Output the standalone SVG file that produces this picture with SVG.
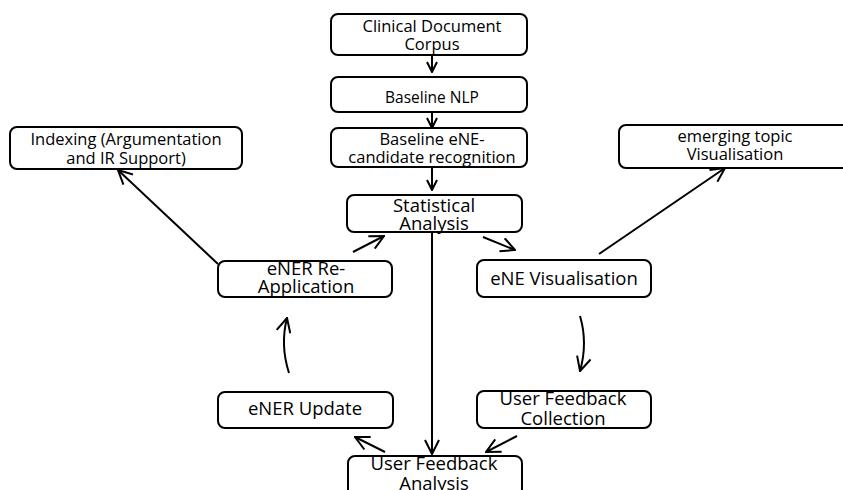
<svg xmlns="http://www.w3.org/2000/svg" width="843" height="490" viewBox="0 0 843 490">
<style>
.box{fill:#fff;stroke:#000;stroke-width:2}
.t{font-family:"Open Sans","Noto Sans",sans-serif;fill:#000;text-anchor:middle}
.s{font-size:16.5px}
.m{font-size:18.5px}
.c{fill:none;stroke:#000;stroke-width:2}
</style>
<defs>
<marker id="ah" viewBox="0 0 12 12" refX="11" refY="6" markerWidth="12" markerHeight="12" markerUnits="userSpaceOnUse" orient="auto">
<path d="M1,1 L11,6 L1,11" fill="none" stroke="#000" stroke-width="2"/>
</marker>
<marker id="ahl" viewBox="0 0 16 16" refX="15" refY="8" markerWidth="16" markerHeight="16" markerUnits="userSpaceOnUse" orient="auto">
<path d="M1,1 L15,8 L1,15" fill="none" stroke="#000" stroke-width="2"/>
</marker>
</defs>
<rect width="843" height="490" fill="#fff"/>
<g id="connectors">
<path class="c" d="M432,55 V72" marker-end="url(#ah)"/>
<path class="c" d="M432,112 V128" marker-end="url(#ah)"/>
<path class="c" d="M432,167 V190" marker-end="url(#ah)"/>
<path class="c" d="M218,264 L118,170" marker-end="url(#ahl)"/>
<path class="c" d="M353,252 L384,236" marker-end="url(#ahl)"/>
<path class="c" d="M483,237 L515,250" marker-end="url(#ahl)"/>
<path class="c" d="M599,254 L725,168" marker-end="url(#ahl)"/>
<path class="c" d="M432,232 V454" marker-end="url(#ahl)"/>
<path class="c" d="M289,373 Q280,345 287,318" marker-end="url(#ahl)"/>
<path class="c" d="M580,316 Q588,343 580,371" marker-end="url(#ahl)"/>
<path class="c" d="M385,452 L355,437" marker-end="url(#ahl)"/>
<path class="c" d="M517,436 L486,452" marker-end="url(#ahl)"/>
</g>
<g id="n1"><rect class="box" x="331" y="14" width="196" height="41" rx="7"/><text class="t s" x="432" y="32">Clinical Document</text><text class="t s" x="432" y="50">Corpus</text></g>
<g id="n2"><rect class="box" x="331" y="77" width="196" height="35" rx="7"/><text class="t" style="font-size:15.5px" x="432" y="103">Baseline NLP</text></g>
<g id="n3"><rect class="box" x="331" y="128" width="196" height="39" rx="7"/><text class="t s" x="432" y="145">Baseline eNE-</text><text class="t s" x="432" y="163">candidate recognition</text></g>
<g id="n4"><rect class="box" x="347" y="195" width="175" height="37" rx="7"/><text class="t m" x="434" y="212">Statistical</text><text class="t m" x="434" y="230">Analysis</text></g>
<g id="n5"><rect class="box" x="10" y="127" width="232" height="42" rx="7"/><text class="t s" x="126" y="145">Indexing (Argumentation</text><text class="t s" x="126" y="164">and IR Support)</text></g>
<g id="n6"><rect class="box" x="619" y="125" width="234" height="43" rx="7"/><text class="t s" x="735" y="142">emerging topic</text><text class="t s" x="735" y="160">Visualisation</text></g>
<g id="n7"><rect class="box" x="218" y="261" width="174" height="36" rx="7"/><text class="t m" x="306" y="275">eNER Re-</text><text class="t m" x="306" y="293">Application</text></g>
<g id="n8"><rect class="box" x="477" y="260" width="174" height="37" rx="7"/><text class="t m" x="564" y="285">eNE Visualisation</text></g>
<g id="n9"><rect class="box" x="218" y="392" width="175" height="36" rx="7"/><text class="t m" x="305" y="415">eNER Update</text></g>
<g id="n10"><rect class="box" x="477" y="391" width="174" height="37" rx="7"/><text class="t m" x="563" y="405">User Feedback</text><text class="t m" x="563" y="425">Collection</text></g>
<g id="n11"><rect class="box" x="348" y="456" width="174" height="40" rx="7"/><text class="t m" x="434" y="470">User Feedback</text><text class="t m" x="434" y="490">Analysis</text></g>
</svg>
